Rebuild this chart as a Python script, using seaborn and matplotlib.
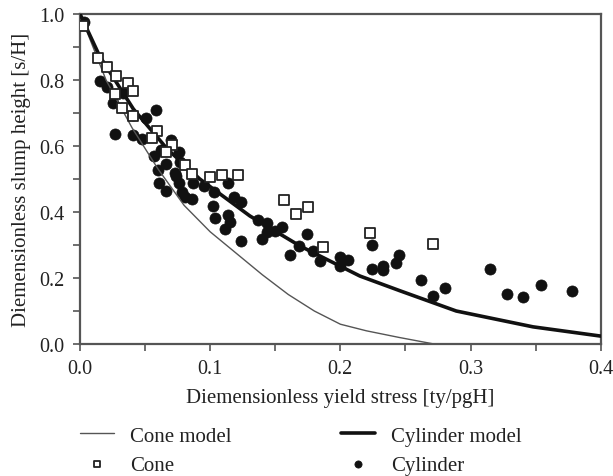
import matplotlib
matplotlib.use("Agg")
import matplotlib.pyplot as plt
import numpy as np
import pandas as pd
import seaborn as sns
from matplotlib.ticker import MultipleLocator

# --- data ---
cone_x = [0.002, 0.014, 0.021, 0.028, 0.037, 0.041, 0.027, 0.032, 0.041, 0.059,
          0.055, 0.071, 0.066, 0.081, 0.086, 0.100, 0.109, 0.121, 0.157, 0.166,
          0.175, 0.187, 0.223, 0.271]
cone_y = [0.964, 0.867, 0.839, 0.812, 0.791, 0.767, 0.758, 0.715, 0.691, 0.645,
          0.624, 0.603, 0.582, 0.542, 0.515, 0.506, 0.512, 0.512, 0.436, 0.394,
          0.415, 0.294, 0.336, 0.303]

cyl_x = [0.003, 0.015, 0.021, 0.025, 0.033, 0.027, 0.041, 0.048, 0.041, 0.058,
         0.051, 0.070, 0.076, 0.062, 0.066, 0.057, 0.060, 0.061, 0.066, 0.074,
         0.076, 0.078, 0.081, 0.086, 0.087, 0.095, 0.103, 0.114, 0.118, 0.124,
         0.102, 0.104, 0.114, 0.115, 0.111, 0.137, 0.124, 0.144, 0.140, 0.144,
         0.150, 0.155, 0.161, 0.168, 0.174, 0.179, 0.184, 0.200, 0.206, 0.200,
         0.224, 0.224, 0.233, 0.233, 0.243, 0.245, 0.262, 0.271, 0.280, 0.315,
         0.328, 0.340, 0.354, 0.378, 0.077, 0.073]
cyl_y = [0.976, 0.797, 0.779, 0.730, 0.761, 0.636, 0.633, 0.621, 0.694, 0.709,
         0.685, 0.618, 0.582, 0.588, 0.545, 0.570, 0.527, 0.488, 0.464, 0.509,
         0.488, 0.461, 0.445, 0.439, 0.488, 0.479, 0.461, 0.488, 0.445, 0.430,
         0.418, 0.382, 0.391, 0.370, 0.348, 0.376, 0.312, 0.367, 0.318, 0.339,
         0.342, 0.355, 0.270, 0.297, 0.333, 0.282, 0.252, 0.264, 0.255, 0.236,
         0.300, 0.227, 0.236, 0.224, 0.245, 0.270, 0.194, 0.145, 0.170, 0.227,
         0.152, 0.142, 0.179, 0.161, 0.552, 0.518]

cone_model_x = [0.0, 0.02, 0.04, 0.06, 0.08, 0.10, 0.12, 0.14, 0.16, 0.18,
                0.20, 0.22, 0.245, 0.272]
cone_model_y = [1.0, 0.80, 0.655, 0.53, 0.42, 0.34, 0.275, 0.21, 0.15, 0.10,
                0.06, 0.04, 0.02, 0.0]

cyl_model_x = [0.0, 0.015, 0.041, 0.067, 0.092, 0.1305, 0.169, 0.215, 0.246,
               0.289, 0.348, 0.40]
cyl_model_y = [1.0, 0.873, 0.712, 0.591, 0.50, 0.388, 0.297, 0.206, 0.161,
               0.100, 0.052, 0.024]

sns.set_style("ticks")
plt.rcParams['font.family'] = ['Liberation Serif', 'DejaVu Serif']
txt = '#222222'

fig = plt.figure(figsize=(6.13, 4.77), dpi=100)
ax = fig.add_axes([0.1305, 0.2767, 0.8495, 0.6919])

sns.lineplot(x=cone_model_x, y=cone_model_y, ax=ax, color='#555555', linewidth=1.0,
             sort=False, estimator=None, label='Cone model', zorder=3)
sns.lineplot(x=cyl_model_x, y=cyl_model_y, ax=ax, color='#111111', linewidth=2.6,
             sort=False, estimator=None, label='Cylinder model', zorder=4)
sns.scatterplot(x=cyl_x, y=cyl_y, ax=ax, color='#111111', marker='o', s=64,
                edgecolor='#111111', linewidth=0.5, label='Cylinder', zorder=2)
sns.scatterplot(x=cone_x, y=cone_y, ax=ax, marker='s', s=52, facecolor='white',
                edgecolor='#222222', linewidth=1.3, label='Cone', zorder=5)

ax.set_xlim(0, 0.4)
ax.set_ylim(0, 1.0)
ax.xaxis.set_major_locator(MultipleLocator(0.1))
ax.xaxis.set_minor_locator(MultipleLocator(0.05))
ax.yaxis.set_major_locator(MultipleLocator(0.2))
ax.yaxis.set_minor_locator(MultipleLocator(0.1))
ax.tick_params(which='both', direction='out', color='#555555', width=1.2,
               length=5, labelsize=14.5, labelcolor=txt)
ax.tick_params(axis='x', which='major', pad=6)
ax.tick_params(axis='y', which='major', pad=6)
for sp in ax.spines.values():
    sp.set_color('#555555')
    sp.set_linewidth(1.6)

ax.set_xlabel('Diemensionless yield stress [ty/pgH]', fontsize=15, color=txt, labelpad=7)
ax.set_ylabel('Diemensionless slump height [s/H]', fontsize=15, color=txt, labelpad=6)

handles, labels = ax.get_legend_handles_labels()
hmap = dict(zip(labels, handles))
ax.get_legend().remove()

leg_kw = dict(loc='upper left', frameon=False, fontsize=15, handlelength=1.65,
              handletextpad=0.75, labelspacing=0.45, markerscale=0.65,
              borderpad=0, borderaxespad=0)
left_keys = ['Cone model', 'Cone']
right_keys = ['Cylinder model', 'Cylinder']
leg1 = fig.legend([hmap[k] for k in left_keys], left_keys,
                  bbox_to_anchor=(80 / 613, 1 - 427 / 477), **leg_kw)
leg2 = fig.legend([hmap[k] for k in right_keys], right_keys,
                  bbox_to_anchor=(341 / 613, 1 - 427 / 477), **leg_kw)
for lg in (leg1, leg2):
    for t in lg.get_texts():
        t.set_color(txt)

fig.savefig('out.png', dpi=100)
